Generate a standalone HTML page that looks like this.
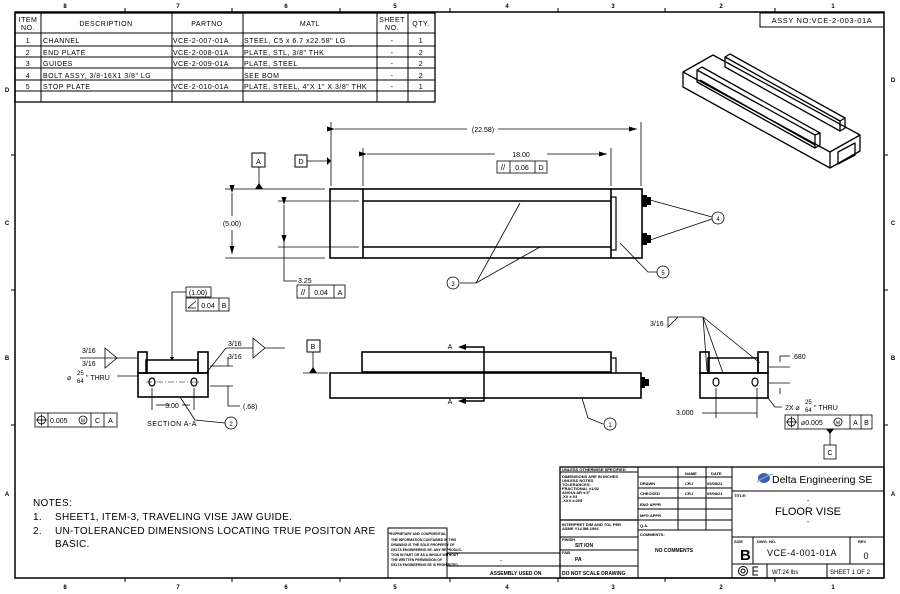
<!DOCTYPE html>
<html><head><meta charset="utf-8"><style>
html,body{margin:0;padding:0;background:#fff}
svg{display:block}
text{font-family:"Liberation Sans",sans-serif;fill:#000}
</style></head><body>
<svg width="900" height="594" viewBox="0 0 900 594" xmlns="http://www.w3.org/2000/svg">
<defs>
<marker id="ar" markerWidth="8" markerHeight="6" refX="8" refY="3" orient="auto" markerUnits="userSpaceOnUse"><path d="M0,0.5 L8,3 L0,5.5z" fill="#000"/></marker>
</defs>
<rect width="900" height="594" fill="#fff"/>
<!-- border -->
<rect x="15" y="12" width="869" height="566" fill="none" stroke="#000" stroke-width="1.5"/>
<g stroke="#000" stroke-width="1">
<line x1="125" y1="8" x2="125" y2="12"/><line x1="232" y1="8" x2="232" y2="12"/><line x1="340" y1="8" x2="340" y2="12"/><line x1="450" y1="8" x2="450" y2="12"/><line x1="558" y1="8" x2="558" y2="12"/><line x1="665" y1="8" x2="665" y2="12"/><line x1="775" y1="8" x2="775" y2="12"/>
<line x1="125" y1="578" x2="125" y2="582"/><line x1="232" y1="578" x2="232" y2="582"/><line x1="340" y1="578" x2="340" y2="582"/><line x1="450" y1="578" x2="450" y2="582"/><line x1="558" y1="578" x2="558" y2="582"/><line x1="665" y1="578" x2="665" y2="582"/><line x1="775" y1="578" x2="775" y2="582"/>
<line x1="11" y1="155" x2="15" y2="155"/><line x1="11" y1="290" x2="15" y2="290"/><line x1="11" y1="425" x2="15" y2="425"/>
<line x1="884" y1="155" x2="888" y2="155"/><line x1="884" y1="290" x2="888" y2="290"/><line x1="884" y1="425" x2="888" y2="425"/>
</g>
<g font-size="6" font-weight="bold" text-anchor="middle">
<text x="65" y="8">8</text><text x="178" y="8">7</text><text x="286" y="8">6</text><text x="395" y="8">5</text><text x="507" y="8">4</text><text x="613" y="8">3</text><text x="721" y="8">2</text><text x="833" y="8">1</text>
<text x="65" y="589">8</text><text x="178" y="589">7</text><text x="286" y="589">6</text><text x="395" y="589">5</text><text x="507" y="589">4</text><text x="613" y="589">3</text><text x="721" y="589">2</text><text x="833" y="589">1</text>
<text x="7" y="92">D</text><text x="7" y="225">C</text><text x="7" y="360">B</text><text x="7" y="496">A</text>
<text x="893" y="82">D</text><text x="893" y="225">C</text><text x="893" y="360">B</text><text x="893" y="496">A</text>
</g>

<!-- BOM -->
<g stroke="#000" fill="none" stroke-width="1">
<rect x="15" y="13" width="420" height="89" stroke-width="1.3"/>
<line x1="41" y1="13" x2="41" y2="102"/><line x1="172" y1="13" x2="172" y2="102"/><line x1="243" y1="13" x2="243" y2="102"/><line x1="377" y1="13" x2="377" y2="102"/><line x1="408" y1="13" x2="408" y2="102"/>
<line x1="15" y1="33" x2="435" y2="33"/><line x1="15" y1="46" x2="435" y2="46"/><line x1="15" y1="57" x2="435" y2="57"/><line x1="15" y1="68" x2="435" y2="68"/><line x1="15" y1="80" x2="435" y2="80"/><line x1="15" y1="91" x2="435" y2="91"/>
<line x1="15" y1="102" x2="15" y2="114" stroke-width="1"/>
</g>
<g font-size="7" letter-spacing="0.5">
<text x="28" y="22" text-anchor="middle">ITEM</text><text x="28" y="30" text-anchor="middle">NO.</text>
<text x="106" y="26" text-anchor="middle">DESCRIPTION</text>
<text x="207" y="26" text-anchor="middle">PARTNO</text>
<text x="310" y="26" text-anchor="middle">MATL</text>
<text x="392" y="22" text-anchor="middle">SHEET</text><text x="392" y="30" text-anchor="middle">NO.</text>
<text x="421" y="26" text-anchor="middle">QTY.</text>
<text x="28" y="43" text-anchor="middle">1</text><text x="43" y="43">CHANNEL</text><text x="173" y="43">VCE-2-007-01A</text><text x="244" y="43">STEEL, C5 x 6.7 x22.58" LG</text><text x="392" y="43" text-anchor="middle">-</text><text x="421" y="43" text-anchor="middle">1</text>
<text x="28" y="55" text-anchor="middle">2</text><text x="43" y="55">END PLATE</text><text x="173" y="55">VCE-2-008-01A</text><text x="244" y="55">PLATE, STL, 3/8" THK</text><text x="392" y="55" text-anchor="middle">-</text><text x="421" y="55" text-anchor="middle">2</text>
<text x="28" y="66" text-anchor="middle">3</text><text x="43" y="66">GUIDES</text><text x="173" y="66">VCE-2-009-01A</text><text x="244" y="66">PLATE, STEEL</text><text x="392" y="66" text-anchor="middle">-</text><text x="421" y="66" text-anchor="middle">2</text>
<text x="28" y="78" text-anchor="middle">4</text><text x="43" y="78">BOLT ASSY, 3/8-16X1 3/8" LG</text><text x="244" y="78">SEE BOM</text><text x="392" y="78" text-anchor="middle">-</text><text x="421" y="78" text-anchor="middle">2</text>
<text x="28" y="89" text-anchor="middle">5</text><text x="43" y="89">STOP PLATE</text><text x="173" y="89">VCE-2-010-01A</text><text x="244" y="89">PLATE, STEEL, 4"X 1" X 3/8" THK</text><text x="392" y="89" text-anchor="middle">-</text><text x="421" y="89" text-anchor="middle">1</text>
</g>

<!-- ASSY NO -->
<rect x="760" y="13" width="124" height="14" fill="none" stroke="#000" stroke-width="1"/>
<text x="822" y="23" font-size="7.5" text-anchor="middle" letter-spacing="0.6">ASSY NO:VCE-2-003-01A</text>

<!-- Iso view -->
<g stroke="#000" stroke-width="1.3" fill="none" stroke-linejoin="round">
<path d="M683,72 L713,55 L860,135 L830,152 Z"/>
<path d="M683,72 L683,87 L830,168 L830,152"/>
<path d="M830,168 L860,151 L860,135"/>
<path d="M697,70 L702,67 L820,133 L820,145 L815,148 L697,82 Z"/>
<path d="M697,70 L815,135 L815,148"/>
<path d="M815,135 L820,133"/>
<path d="M725,57 L730,54 L845,118 L845,128 L840,131 L725,67 Z"/>
<path d="M725,57 L840,121 L840,131"/>
<path d="M840,121 L845,118"/>
<path d="M838,152 L855,143 L855,155 L838,164 Z"/>
<path d="M700,80 L815,145"/>
</g>

<!-- Top view -->
<g stroke="#000" fill="none">
<rect x="330" y="189" width="312" height="69" stroke-width="1.6"/>
<line x1="363" y1="189" x2="363" y2="258" stroke-width="1.6"/>
<line x1="611" y1="189" x2="611" y2="258" stroke-width="1.6"/>
<line x1="363" y1="201" x2="611" y2="201" stroke-width="1.6"/>
<line x1="363" y1="247" x2="611" y2="247" stroke-width="1.6"/>
<rect x="611" y="197" width="5" height="53" stroke-width="1.2"/>
<g stroke-width="0.8">
<line x1="225" y1="189" x2="325" y2="189"/><line x1="225" y1="258" x2="325" y2="258"/>
<line x1="278" y1="201" x2="359" y2="201"/><line x1="278" y1="247" x2="359" y2="247"/>
<line x1="331" y1="122" x2="331" y2="186"/><line x1="641" y1="122" x2="641" y2="186"/>
<line x1="363" y1="148" x2="363" y2="186"/><line x1="611" y1="148" x2="611" y2="186"/>
<line x1="335" y1="129" x2="467" y2="129" marker-start="url(#ar)"/><line x1="498" y1="129" x2="637" y2="129" marker-end="url(#ar)"/>
<line x1="367" y1="154" x2="495" y2="154" marker-start="url(#ar)"/><line x1="547" y1="154" x2="607" y2="154" marker-end="url(#ar)"/>
<line x1="232" y1="193" x2="232" y2="216" marker-start="url(#ar)"/><line x1="232" y1="230" x2="232" y2="254" marker-end="url(#ar)"/>
<line x1="284" y1="205" x2="284" y2="243" marker-start="url(#ar)" marker-end="url(#ar)"/>
<polyline points="284,243 284,281 297,281"/>
<line x1="259" y1="167" x2="259" y2="186"/>
<line x1="307" y1="161" x2="327" y2="161"/>
<polyline points="460,283 476,283 520,203"/><line x1="476" y1="283" x2="540" y2="247"/>
<polyline points="657,272 648,272 620,243"/>
<line x1="712" y1="217" x2="650" y2="200"/><line x1="712" y1="219" x2="650" y2="240"/>
</g>
<path d="M255,189 L259,183 L263,189Z M327,157 L331,161 L327,165Z" fill="#000" stroke="none"/>
<rect x="252" y="153" width="13" height="14" stroke-width="1"/>
<rect x="295" y="155" width="12" height="12" stroke-width="1"/>
<rect x="497" y="161" width="50" height="12" stroke-width="0.8"/><line x1="510" y1="161" x2="510" y2="173" stroke-width="0.8"/><line x1="535" y1="161" x2="535" y2="173" stroke-width="0.8"/>
<rect x="297" y="285" width="48" height="13" stroke-width="0.8"/><line x1="309" y1="285" x2="309" y2="298" stroke-width="0.8"/><line x1="334" y1="285" x2="334" y2="298" stroke-width="0.8"/>
<circle cx="453" cy="283" r="6" stroke-width="0.8"/><circle cx="663" cy="272" r="6" stroke-width="0.8"/><circle cx="718" cy="218" r="6" stroke-width="0.8"/>
</g>
<g fill="#000"><rect x="642" y="195" width="5" height="12"/><rect x="647" y="197" width="4" height="8"/><rect x="642" y="233" width="5" height="12"/><rect x="647" y="235" width="4" height="8"/></g>
<g font-size="7">
<text x="483" y="132" text-anchor="middle">(22.58)</text>
<text x="521" y="157" text-anchor="middle">18.00</text>
<text x="503" y="170" text-anchor="middle" font-size="8">//</text><text x="522" y="170" text-anchor="middle">0.06</text><text x="541" y="170" text-anchor="middle">D</text>
<text x="232" y="226" text-anchor="middle">(5.00)</text>
<text x="298" y="283">3.25</text>
<text x="303" y="295" text-anchor="middle" font-size="8">//</text><text x="321" y="295" text-anchor="middle">0.04</text><text x="340" y="295" text-anchor="middle">A</text>
<text x="258.5" y="164" text-anchor="middle">A</text><text x="301" y="164" text-anchor="middle">D</text>
<text x="453" y="286" text-anchor="middle" font-size="6">3</text><text x="663" y="275" text-anchor="middle" font-size="6">5</text><text x="718" y="221" text-anchor="middle" font-size="6">4</text>
</g>

<!-- Front view -->
<g stroke="#000" fill="none">
<rect x="330" y="373" width="311" height="25" stroke-width="1.6"/>
<rect x="362" y="352" width="249" height="20" stroke-width="1.6"/>
<polyline points="611,358 616,358 616,373" stroke-width="1.2"/>
<rect x="307" y="340" width="13" height="12" stroke-width="1"/>
<line x1="313" y1="352" x2="313" y2="369" stroke-width="0.8"/>
<line x1="303" y1="373" x2="328" y2="373" stroke-width="0.8"/>
<polyline points="466,347 484,347 484,401 466,401" stroke-width="1.5"/>
<polyline points="582,398 588,418 603,424" stroke-width="0.8"/>
<circle cx="610" cy="424" r="6" stroke-width="0.8"/>
</g>
<path d="M309,373 L313,367 L317,373Z" fill="#000"/>
<path d="M458,347 L466,344 L466,350Z M458,401 L466,398 L466,404Z" fill="#000"/>
<g fill="#000"><rect x="641" y="377" width="4" height="11"/><rect x="645" y="379" width="4" height="7"/></g>
<g font-size="7"><text x="313" y="349" text-anchor="middle">B</text><text x="450" y="349" text-anchor="middle">A</text><text x="450" y="404" text-anchor="middle">A</text><text x="610" y="427" text-anchor="middle" font-size="6">1</text></g>

<!-- Section A-A -->
<g stroke="#000" fill="none">
<rect x="138" y="373" width="70" height="24" stroke-width="1.6"/>
<rect x="138" y="352" width="9" height="21" stroke-width="1.6"/>
<rect x="198" y="352" width="10" height="21" stroke-width="1.6"/>
<rect x="146" y="360" width="52" height="13" stroke-width="1.5"/>
<ellipse cx="152" cy="382" rx="3" ry="4" stroke-width="1.2"/><ellipse cx="194" cy="382" rx="3" ry="4" stroke-width="1.2"/>
<line x1="146" y1="382" x2="200" y2="382" stroke-width="0.6" stroke-dasharray="6,2,1,2"/>
<g stroke-width="0.8">
<polyline points="172,359 172,292 186,292"/>
<line x1="152" y1="388" x2="152" y2="410"/><line x1="194" y1="388" x2="194" y2="410"/>
<line x1="156" y1="405" x2="170" y2="405"/><line x1="182" y1="405" x2="190" y2="405"/>
<line x1="80" y1="358" x2="137" y2="358"/>
<path d="M105,348 L117,358 L105,368 Z"/>
<line x1="265" y1="348" x2="285" y2="348"/>
<path d="M253,338 L265,348 L253,358 Z"/>
<line x1="253" y1="348" x2="226" y2="348"/><line x1="226" y1="348" x2="207" y2="372"/>
<line x1="210" y1="366" x2="233" y2="366"/><line x1="210" y1="386" x2="233" y2="386"/>
<polyline points="228,357 228,366"/><polyline points="228,386 228,406 240,406"/>
<line x1="117" y1="376" x2="138" y2="376"/>
<polyline points="180,397 195,420 225,423"/>
<rect x="35" y="413" width="82" height="14"/>
<line x1="48" y1="413" x2="48" y2="427"/><line x1="91" y1="413" x2="91" y2="427"/><line x1="104" y1="413" x2="104" y2="427"/>
<rect x="186" y="287" width="25" height="10"/>
<rect x="186" y="298" width="43" height="13"/><line x1="198" y1="298" x2="198" y2="311"/><line x1="219" y1="298" x2="219" y2="311"/>
<circle cx="231" cy="423" r="6"/>
<circle cx="41.5" cy="420" r="4"/><line x1="36" y1="420" x2="47" y2="420"/><line x1="41.5" y1="414.5" x2="41.5" y2="425.5"/>
<circle cx="83" cy="420" r="4"/>
<path d="M188,308 L196,301 M188,308 L196,308"/>
</g>
</g>
<path d="M170,357 L172,361 L174,357Z" fill="#000"/>
<g font-size="7">
<text x="82" y="353">3/16</text><text x="82" y="366">3/16</text>
<text x="228" y="346">3/16</text><text x="228" y="359">3/16</text>
<text x="198" y="295" text-anchor="middle">(1.00)</text>
<text x="208" y="308" text-anchor="middle">0.04</text><text x="224" y="308" text-anchor="middle">B</text>
<text x="172" y="408" text-anchor="middle">3.00</text>
<text x="243" y="409">(.68)</text>
<text x="67" y="380">⌀</text><text x="77" y="375" font-size="6">25</text><text x="77" y="383" font-size="6">64</text><text x="86" y="380">" THRU</text>
<text x="50" y="423">0.005</text><text x="83" y="422.5" text-anchor="middle" font-size="5">M</text><text x="97.5" y="423" text-anchor="middle">C</text><text x="110.5" y="423" text-anchor="middle">A</text>
<text x="172" y="426" text-anchor="middle" letter-spacing="0.5">SECTION A-A</text>
<text x="231" y="426" text-anchor="middle" font-size="6">2</text>
</g>

<!-- Right side view -->
<g stroke="#000" fill="none">
<rect x="700" y="373" width="68" height="25" stroke-width="1.6"/>
<rect x="700" y="352" width="9" height="21" stroke-width="1.6"/>
<rect x="758" y="352" width="10" height="21" stroke-width="1.6"/>
<rect x="708" y="358" width="50" height="15" stroke-width="1.5"/>
<ellipse cx="716" cy="382" rx="3" ry="4" stroke-width="1.2"/><ellipse cx="755" cy="382" rx="3" ry="4" stroke-width="1.2"/>
<g stroke-width="0.8">
<line x1="668" y1="317" x2="703" y2="317"/>
<path d="M668,317 L668,327 L678,317"/>
<line x1="703" y1="317" x2="707" y2="371"/><line x1="703" y1="317" x2="723" y2="373"/><line x1="703" y1="317" x2="760" y2="363"/>
<line x1="769" y1="367" x2="790" y2="367"/><line x1="769" y1="383" x2="790" y2="383"/>
<polyline points="780,356 780,362"/><polyline points="780,388 780,394"/><polyline points="780,356 790,356"/>
<line x1="716" y1="388" x2="716" y2="418"/><line x1="757" y1="388" x2="757" y2="418"/>
<line x1="702" y1="413" x2="716" y2="413"/><line x1="716" y1="413" x2="757" y2="413"/>
<polyline points="768,398 775,407 782,407"/>
<rect x="785" y="415" width="87" height="14"/>
<line x1="798" y1="415" x2="798" y2="429"/><line x1="850" y1="415" x2="850" y2="429"/><line x1="861" y1="415" x2="861" y2="429"/>
<circle cx="791.5" cy="422" r="4"/><line x1="786" y1="422" x2="797" y2="422"/><line x1="791.5" y1="416.5" x2="791.5" y2="427.5"/>
<circle cx="838" cy="422" r="4"/>
<line x1="830" y1="429" x2="830" y2="445"/>
<rect x="824" y="445" width="12" height="14"/>
</g>
</g>
<path d="M826,429 L830,434 L834,429Z" fill="#000"/>
<g font-size="7">
<text x="650" y="326">3/16</text>
<text x="792" y="359">.680</text>
<text x="676" y="415">3.000</text>
<text x="785" y="410">2X ⌀</text><text x="805" y="404" font-size="6">25</text><text x="805" y="412" font-size="6">64</text><text x="814" y="410">" THRU</text>
<text x="801" y="425">⌀0.005</text><text x="838" y="424.5" text-anchor="middle" font-size="5">M</text><text x="855.5" y="425" text-anchor="middle">A</text><text x="866.5" y="425" text-anchor="middle">B</text>
<text x="830" y="455" text-anchor="middle">C</text>
</g>

<!-- Notes -->
<g font-size="10" letter-spacing="0.3">
<text x="33" y="506">NOTES:</text>
<text x="33" y="520">1.</text><text x="55" y="520">SHEET1, ITEM-3, TRAVELING VISE JAW GUIDE.</text>
<text x="33" y="534">2.</text><text x="55" y="534">UN-TOLERANCED DIMENSIONS LOCATING TRUE POSITON ARE</text>
<text x="55" y="547">BASIC.</text>
</g>

<!-- Proprietary box -->
<rect x="388" y="528" width="59" height="50" fill="none" stroke="#000" stroke-width="1"/>
<g font-size="3.4" font-weight="bold">
<text x="417" y="535" text-anchor="middle">PROPRIETARY AND CONFIDENTIAL</text>
<text x="391" y="541">THE INFORMATION CONTAINED IN THIS</text>
<text x="391" y="546">DRAWING IS THE SOLE PROPERTY OF</text>
<text x="391" y="551">DELTA ENGINEERING SE. ANY REPRODUC-</text>
<text x="391" y="556">TION IN PART OR AS A WHOLE WITHOUT</text>
<text x="391" y="561">THE WRITTEN PERMISSION OF</text>
<text x="391" y="566">DELTA ENGINEERING SE IS PROHIBITED.</text>
</g>
<g stroke="#000" stroke-width="1" fill="none">
<line x1="447" y1="553" x2="560" y2="553"/><line x1="447" y1="566" x2="560" y2="566"/>
</g>
<text x="500" y="562" font-size="6">-</text>
<text x="490" y="575" font-size="5" font-weight="bold">ASSEMBLY USED ON</text>

<!-- Title block -->
<g stroke="#000" fill="none" stroke-width="1">
<rect x="560" y="467" width="324" height="111" stroke-width="1.3"/>
<line x1="638" y1="467" x2="638" y2="578"/>
<line x1="678" y1="467" x2="678" y2="530"/>
<line x1="706" y1="467" x2="706" y2="530"/>
<line x1="732" y1="467" x2="732" y2="578"/>
<line x1="638" y1="477" x2="732" y2="477"/>
<line x1="638" y1="488" x2="732" y2="488"/>
<line x1="638" y1="498" x2="732" y2="498"/>
<line x1="638" y1="509" x2="732" y2="509"/>
<line x1="638" y1="520" x2="732" y2="520"/>
<line x1="638" y1="530" x2="732" y2="530"/>
<line x1="560" y1="472" x2="638" y2="472"/>
<line x1="560" y1="520" x2="638" y2="520" stroke-width="1.3"/>
<line x1="560" y1="537" x2="638" y2="537"/>
<line x1="560" y1="550" x2="638" y2="550"/>
<line x1="560" y1="566" x2="638" y2="566"/>
<line x1="732" y1="491" x2="884" y2="491"/>
<line x1="732" y1="537" x2="884" y2="537"/>
<line x1="732" y1="564" x2="884" y2="564"/>
<line x1="753" y1="537" x2="753" y2="564"/>
<line x1="850" y1="537" x2="850" y2="564"/>
<line x1="767" y1="564" x2="767" y2="578"/>
<line x1="827" y1="564" x2="827" y2="578"/>
<circle cx="743" cy="571" r="4.5"/><circle cx="743" cy="571" r="2"/>
<path d="M758,567 L753,567 L753,575 L758,575 M753,571 L758,571"/>
</g>
<ellipse cx="764" cy="478" rx="6" ry="5" fill="#3b5fb0"/><path d="M757,482 Q765,476 773,474" stroke="#8aa6da" stroke-width="1.2" fill="none"/>
<g font-size="4" font-weight="bold">
<text x="562" y="471">UNLESS OTHERWISE SPECIFIED</text>
<text x="562" y="478">DIMENSIONS ARE IN INCHES</text>
<text x="562" y="482">UNLESS NOTED</text>
<text x="562" y="486">TOLERANCES:</text>
<text x="562" y="490">FRACTIONAL  ±1/32</text>
<text x="562" y="494">ANGULAR  ±.5°</text>
<text x="562" y="498">.XX  ±.03</text>
<text x="562" y="502">.XXX ±.005</text>
<text x="562" y="526">INTERPRET DIM AND TOL PER</text>
<text x="562" y="530">ASME Y14.5M-1994</text>
<text x="562" y="541">FINISH</text>
<text x="575" y="547" font-size="5">SIT ION</text>
<text x="562" y="554">FAB</text>
<text x="575" y="561" font-size="5">PA</text>
<text x="562" y="575" font-size="5">DO NOT SCALE DRAWING</text>
<text x="640" y="485">DRAWN</text><text x="640" y="495">CHECKED</text><text x="640" y="506">ENG APPR</text><text x="640" y="517">MFG APPR</text><text x="640" y="527">Q.A.</text>
<text x="640" y="536">COMMENTS:</text>
<text x="685" y="475">NAME</text><text x="711" y="475">DATE</text>
<text x="685" y="485">CRJ</text><text x="707" y="485">05/08/21</text>
<text x="685" y="495">CRJ</text><text x="707" y="495">05/08/21</text>
<text x="655" y="552" font-size="5">NO COMMENTS</text>
<text x="734" y="497">TITLE:</text>
<text x="734" y="543">SIZE</text><text x="757" y="543">DWG.  NO.</text><text x="858" y="543">REV</text>
</g>
<text x="772" y="483" font-size="10.5">Delta Engineering SE</text>
<text x="808" y="503" font-size="7" text-anchor="middle">-</text>
<text x="808" y="515" font-size="11" text-anchor="middle">FLOOR VISE</text>
<text x="808" y="524" font-size="7" text-anchor="middle">-</text>
<text x="740" y="560" font-size="15" font-weight="bold">B</text>
<text x="802" y="556" font-size="9" text-anchor="middle" letter-spacing="0.5">VCE-4-001-01A</text>
<text x="866" y="559" font-size="9" text-anchor="middle">0</text>
<text x="772" y="574" font-size="6">WT:24 lbs</text>
<text x="830" y="574" font-size="6">SHEET 1 OF 2</text>
</svg>
</body></html>
